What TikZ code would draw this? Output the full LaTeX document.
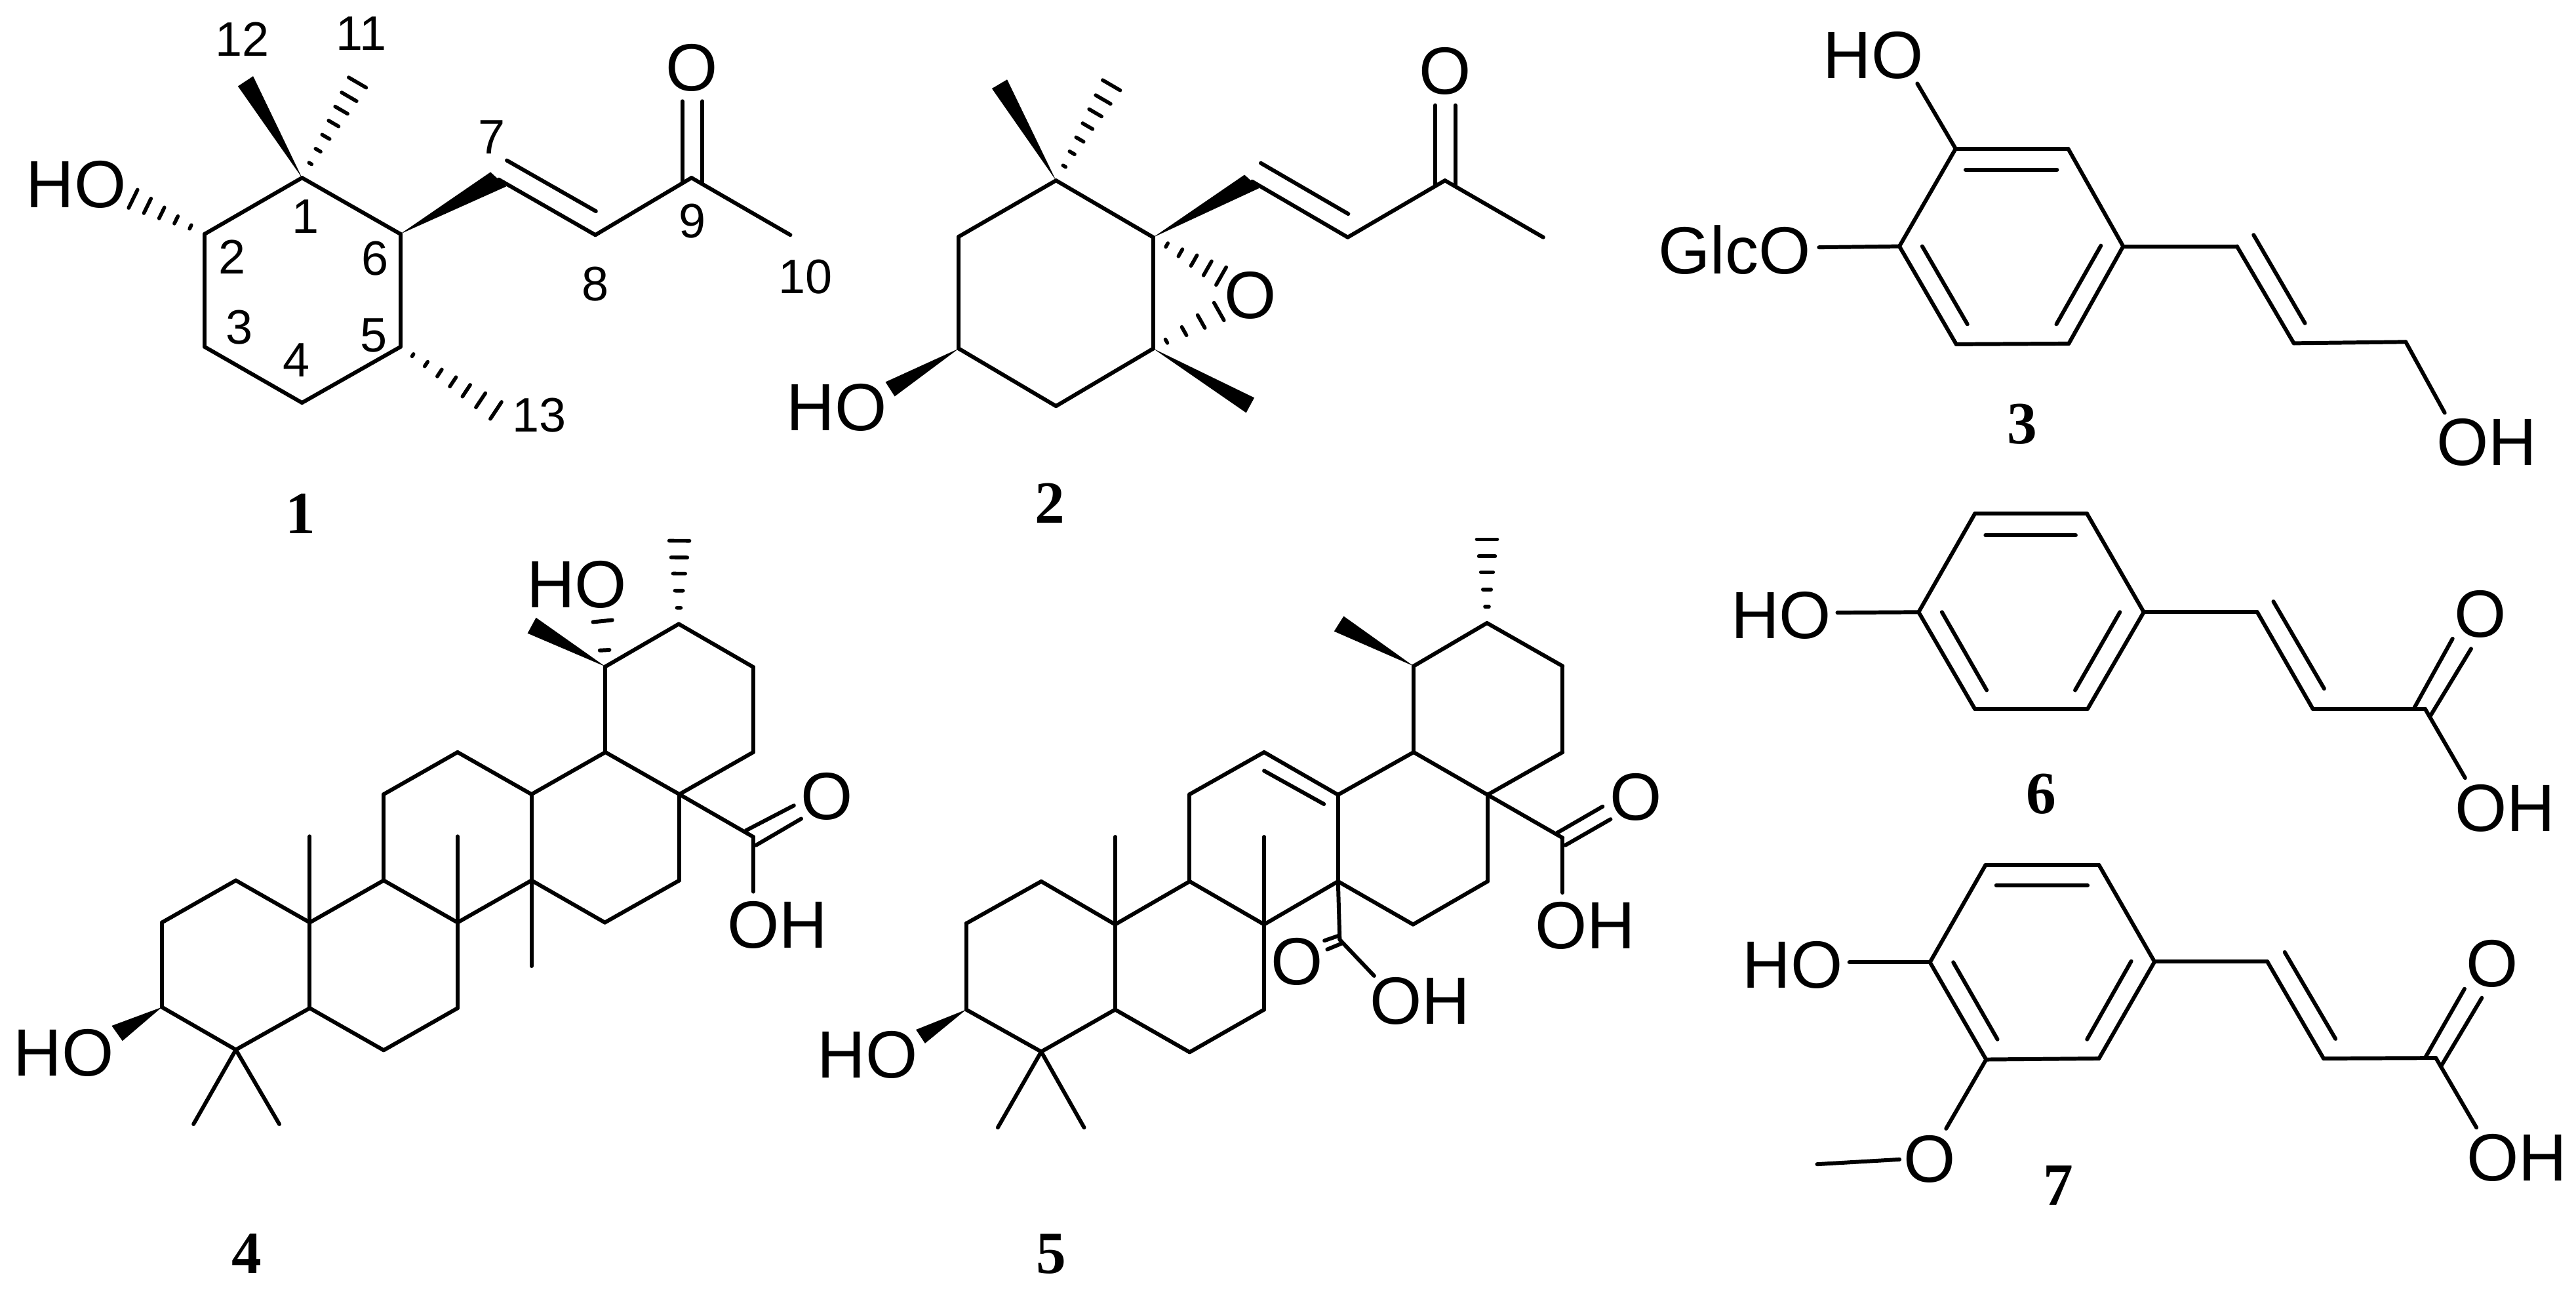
\documentclass[tikz,border=0pt]{standalone}
\usepackage{fontspec}
\setmainfont{Liberation Sans}
\newfontfamily\serifb{Liberation Serif}
\usetikzlibrary{calc}
\tikzset{
  bond/.style={line width=1.7pt,line cap=round,line join=round,black},
  hashl/.style={line width=1.6pt,line cap=round,black},
  atomlab/.style={font=\fontsize{29}{29}\selectfont,inner sep=0pt,text=black},
  numlab/.style={font=\fontsize{21}{21}\selectfont,inner sep=0pt,text=black},
  cmpdlab/.style={font=\fontsize{26}{26}\serifb\bfseries\selectfont,inner sep=0pt,text=black},
}
% define atoms
\newcommand{\atoms}[1]{\foreach \nn/\xx/\yy in {#1}{\coordinate (\nn) at (\xx,\yy);}}
% draw bonds
\newcommand{\bonds}[1]{\foreach \uu/\vv in {#1}{\draw[bond] (\uu) -- (\vv);}}
% solid wedge from atom to two corners
\newcommand{\wedgeb}[3]{\fill[black,line join=round] (#1) -- (#2) -- (#3) -- cycle;}
% hashed wedge: from, to, half width in pt at t=1, list of t
\newcommand{\hashb}[4]{\foreach \hh in {#4}{\pgfmathsetmacro{\hw}{\hh*#3}\draw[hashl] ($(#1)!\hh!(#2)!\hw pt!90:(#1)$) -- ($(#1)!\hh!(#2)!\hw pt!-90:(#1)$);}}
\begin{document}
\begin{tikzpicture}
\fill[white] (0,0) rectangle (39.29,-19.70);
\useasboundingbox (0,0) rectangle (39.29,-19.70);

%%%%%%%% compound 1
\begin{scope}[x=0.0082908cm,y=-0.005102cm]
\atoms{p1/556/532,p2/377/700,p3/377/1038,p4/556/1205,p5/737/1038,p6/737/700,p7/918/537,p8/1096/703,p9/1273/532,p10/1455/703,
 p7a/933/480,p8a/1097/632,p9a/1256/548,p9b/1293/548,p9c/1256/303,p9d/1293/303,
 p12a/466/228,p12b/438/258,p11/658/247,p2h/245/595,p13/913/1228,p7u/903/515,p7v/932/558}
\bonds{p1/p2,p2/p3,p3/p4,p4/p5,p5/p6,p6/p1,p7/p8,p8/p9,p9/p10,p7a/p8a,p9a/p9c,p9b/p9d}
\wedgeb{p1}{p12a}{p12b}
\wedgeb{p6}{p7u}{p7v}
\hashb{p1}{p11}{4.4}{0.15,0.29,0.43,0.57,0.71,0.85,1}
\hashb{p2}{p2h}{4.4}{0.2,0.4,0.6,0.8,1}
\hashb{p5}{p13}{4.4}{0.13,0.27,0.41,0.55,0.69,0.84,1}
\node[atomlab] (p1ho) at (140,553) {HO};
\node[atomlab] (p1o) at (1273,203) {O};
\node[numlab] (n12) at (446,118) {12};
\node[numlab] (n11) at (665,100) {11};
\node[numlab] (n1) at (562,648) {1};
\node[numlab] (n2) at (427,768) {2};
\node[numlab] (n6) at (690,773) {6};
\node[numlab] (n7) at (905,410) {7};
\node[numlab] (n3) at (440,980) {3};
\node[numlab] (n5) at (688,1003) {5};
\node[numlab] (n4) at (545,1078) {4};
\node[numlab] (n8) at (1096,850) {8};
\node[numlab] (n9) at (1275,662) {9};
\node[numlab] (n10) at (1483,828) {10};
\node[numlab] (n13) at (993,1243) {13};
\node[cmpdlab] (cmp1) at (553,1537) {1};
\end{scope}

%%%%%%%% compound 2
\begin{scope}[shift={(11.5,0)},x=0.0082908cm,y=-0.005102cm]
\atoms{q1/556/540,q2/377/708,q3/377/1043,q4/556/1215,q5/735/1043,q6/735/710,q7/917/543,q8/1093/710,q9/1272/540,q10/1453/710,
 q7a/933/488,q8a/1094/640,q9a/1254/555,q9b/1291/555,q9c/1254/315,q9d/1291/315,
 q12a/466/238,q12b/438/265,q11/658/255,q7u/903/523,q7v/930/563,
 qe1/860/826,qe2/856/932,qh1/242/1143,qh2/259/1186,qm1/921/1190,qm2/906/1235}
\bonds{q1/q2,q2/q3,q3/q4,q4/q5,q5/q6,q6/q1,q7/q8,q8/q9,q9/q10,q7a/q8a,q9a/q9c,q9b/q9d}
\wedgeb{q1}{q12a}{q12b}
\wedgeb{q6}{q7u}{q7v}
\wedgeb{q3}{qh1}{qh2}
\wedgeb{q5}{qm1}{qm2}
\hashb{q1}{q11}{4.4}{0.15,0.29,0.43,0.57,0.71,0.85,1}
\hashb{q6}{qe1}{4.4}{0.2,0.4,0.6,0.8,1}
\hashb{q5}{qe2}{4.4}{0.2,0.47,0.73,1}
\node[atomlab] (q1o) at (1272,212) {O};
\node[atomlab] (q2o) at (914,884) {O};
\node[atomlab] (q1ho) at (152,1220) {HO};
\node[cmpdlab] (cmp2) at (545,1505) {2};
\end{scope}

%%%%%%%% compound 3
\begin{scope}[shift={(24.5,0)},x=0.0094324cm,y=-0.005102cm]
\atoms{r1/565/445,r2/747/445,r3/836/737,r4/748/1028,r5/566/1030,r6/474/737,
 r1a/581/508,r2a/729/508,r6a/511/737,r5a/584/970,r3a/800/735,r4a/728/970,
 r7/1020/737,r8/1112/1027,r9/1293/1023,r10/1356/1235,r7a/1047/703,r8a/1130/967,
 r1h/503/250,r6h/344/740}
\bonds{r1/r2,r2/r3,r3/r4,r4/r5,r5/r6,r6/r1,r1a/r2a,r6a/r5a,r3a/r4a,r3/r7,r7/r8,r8/r9,r9/r10,r7a/r8a,r1/r1h,r6/r6h}
\node[atomlab] (r1ho) at (432,165) {HO};
\node[atomlab] (rglc) at (207,747) {GlcO};
\node[atomlab] (roh) at (1424,1323) {OH};
\node[cmpdlab] (cmp3) at (673,1268) {3};
\end{scope}

%%%%%%%% compound 4
\begin{scope}[shift={(0,-8)},x=0.0086097cm,y=-0.0074617cm]
\atoms{s1/1073/290,s2/1203/203,s3/1335/291,s4/1335/465,s5/1204/551,s6/1073/465,
 sd3/1204/727,sd4/1072/813,sd5/942/727,sd6/942/551,
 sc3/811/813,sc4/680/727,sc5/680/551,sc6/811/465,
 sb3/549/813,sb4/549/988,sb5/680/1074,sb6/811/988,
 sa3/418/1073,sa4/287/986,sa5/287/813,sa6/418/727,
 sm1/549/637,sm2/811/637,sm3/942/902,sm4/343/1225,sm5/495/1225,
 sk/1335/638,sko/1335/750,sk1/1322/625,sk2/1407/574,sk3/1340/655,sk4/1420/601,
 sw1/950/190,sw2/935/222,sx/1204/33,
 sy1/1063/257,sy2/1080/256,sy3/1051/199,sy4/1085/195,
 sz1/198/1024,sz2/217/1055}
\bonds{s1/s2,s2/s3,s3/s4,s4/s5,s5/s6,s6/s1,s5/sd3,sd3/sd4,sd4/sd5,sd5/sd6,sd6/s6,sd5/sc3,sc3/sc4,sc4/sc5,sc5/sc6,sc6/sd6,
 sc4/sb3,sb3/sb4,sb4/sb5,sb5/sb6,sb6/sc3,sb4/sa3,sa3/sa4,sa4/sa5,sa5/sa6,sa6/sb3,
 sb3/sm1,sc3/sm2,sd5/sm3,sa3/sm4,sa3/sm5,s5/sk,sk/sko,sk1/sk2,sk3/sk4,sy1/sy2,sy3/sy4}
\wedgeb{s1}{sw1}{sw2}
\wedgeb{sa4}{sz1}{sz2}
\hashb{s2}{sx}{4.4}{0.194,0.4,0.606,0.8,1}
\node[atomlab] (s1ho) at (1022,122) {HO};
\node[atomlab] (s1o) at (1466,556) {O};
\node[atomlab] (s1oh) at (1378,818) {OH};
\node[atomlab] (s2ho) at (113,1080) {HO};
\node[cmpdlab] (cmp4) at (437,1490) {4};
\end{scope}

%%%%%%%% compound 5
\begin{scope}[shift={(12,-8)},x=0.0086097cm,y=-0.0074617cm]
\atoms{t1/1111/289,t2/1241/201,t3/1375/289,t4/1375/465,t5/1242/552,t6/1111/465,
 td3/1242/729,td4/1110/817,td5/977/729,td6/977/552,
 tc3/846/817,tc4/714/729,tc5/714/551,tc6/846/465,tc6a/846/503,td6a/952/571,
 tb3/582/817,tb4/582/991,tb5/714/1078,tb6/846/991,
 ta3/451/1077,ta4/318/991,ta5/318/815,ta6/451/729,
 tm1/582/638,tm2/846/638,tm3/374/1232,tm4/527/1232,
 tk2/980/848,tko/1041/922,tkd1/953/850,tkd2/978/840,tkd3/958/868,tkd4/985/855,
 tk/1375/640,tkp/1375/752,tk1/1365/630,tk2b/1446/576,tk3/1380/655,tk4/1460/602,
 tw1/987/187,tw2/970/218,tx/1241/30,tz1/229/1032,tz2/245/1060}
\bonds{t1/t2,t2/t3,t3/t4,t4/t5,t5/t6,t6/t1,t5/td3,td3/td4,td4/td5,td5/td6,td6/t6,td5/tc3,tc3/tc4,tc4/tc5,tc5/tc6,tc6/td6,tc6a/td6a,
 tc4/tb3,tb3/tb4,tb4/tb5,tb5/tb6,tb6/tc3,tb4/ta3,ta3/ta4,ta4/ta5,ta5/ta6,ta6/tb3,
 tb3/tm1,tc3/tm2,ta3/tm3,ta3/tm4,td5/tk2,tk2/tko,tkd1/tkd2,tkd3/tkd4,t5/tk,tk/tkp,tk1/tk2b,tk3/tk4}
\wedgeb{t1}{tw1}{tw2}
\wedgeb{ta4}{tz1}{tz2}
\hashb{t2}{tx}{4.4}{0.194,0.4,0.606,0.8,1}
\node[atomlab] (t1ho) at (143,1083) {HO};
\node[atomlab] (t1o) at (904,893) {O};
\node[atomlab] (t1oh) at (1122,974) {OH};
\node[atomlab] (t2o) at (1505,557) {O};
\node[atomlab] (t2oh) at (1415,820) {OH};
\node[cmpdlab] (cmp5) at (469,1490) {5};
\end{scope}

%%%%%%%% compounds 6 and 7
\begin{scope}[shift={(25,-7)},x=0.0091135cm,y=-0.0080995cm]
\atoms{u1/562/103,u2/750/103,u3/845/288,u4/751/470,u5/562/470,u6/468/288,
 u1a/580/143,u2a/731/143,u6a/507/288,u5a/582/435,u3a/805/288,u4a/730/435,
 u7/1035/288,u8/1128/470,u9/1316/470,u10/1383/600,u7a/1062/268,u8a/1147/432,
 u9a/1298/468,u9b/1362/338,u9c/1325/483,u9d/1393/357,u6h/332/289}
\bonds{u1/u2,u2/u3,u3/u4,u4/u5,u5/u6,u6/u1,u1a/u2a,u6a/u5a,u3a/u4a,u3/u7,u7/u8,u8/u9,u9/u10,u7a/u8a,u9a/u9b,u9c/u9d,u6/u6h}
\node[atomlab] (uo) at (1408,292) {O};
\node[atomlab] (uoh) at (1450,657) {OH};
\node[atomlab] (uho) at (238,294) {HO};
\node[cmpdlab] (cmp6) at (673,630) {6};

\atoms{v1/580/764,v2/770/764,v3/863/946,v4/770/1128,v5/581/1130,v6/487/947,
 v1a/598/802,v2a/751/802,v6a/526/947,v5a/600/1092,v3a/824/945,v4a/750/1092,
 v7/1052/946,v8/1146/1128,v9/1334/1127,v10/1402/1258,v7a/1081/928,v8a/1166/1091,
 v9a/1317/1125,v9b/1382/997,v9c/1343/1142,v9d/1411/1014,v6h/352/947,
 v5o/514/1260,vo1/436/1318,vo2/298/1327}
\bonds{v1/v2,v2/v3,v3/v4,v4/v5,v5/v6,v6/v1,v1a/v2a,v6a/v5a,v3a/v4a,v3/v7,v7/v8,v8/v9,v9/v10,v7a/v8a,v9a/v9b,v9c/v9d,v6/v6h,v5/v5o,vo1/vo2}
\node[atomlab] (vo) at (1428,950) {O};
\node[atomlab] (voh) at (1470,1315) {OH};
\node[atomlab] (vho) at (257,952) {HO};
\node[atomlab] (vome) at (486,1318) {O};
\node[cmpdlab] (cmp7) at (702,1367) {7};
\end{scope}
\end{tikzpicture}
\end{document}
